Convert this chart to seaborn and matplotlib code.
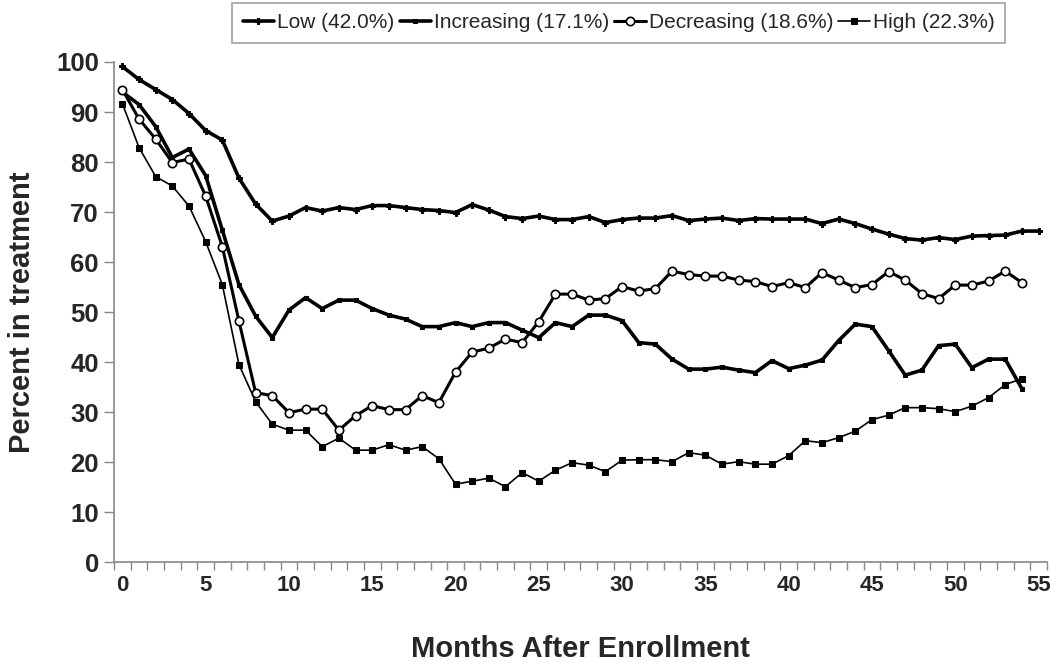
import numpy as np
import pandas as pd
import matplotlib
matplotlib.use("Agg")
import matplotlib.pyplot as plt
from matplotlib.ticker import MultipleLocator, FixedLocator
from matplotlib import font_manager
import seaborn as sns

# percent in treatment by month after enrollment
low = [99.1, 96.5, 94.5, 92.5, 89.7, 86.3, 84.4, 76.8, 71.6, 68.2,
       69.2, 70.9, 70.2, 70.9, 70.5, 71.3, 71.3, 70.9, 70.5, 70.3,
       69.9, 71.5, 70.4, 69.1, 68.7, 69.2, 68.5, 68.5, 69.1, 67.9,
       68.5, 68.8, 68.8, 69.3, 68.3, 68.6, 68.8, 68.3, 68.7, 68.6,
       68.6, 68.6, 67.7, 68.6, 67.7, 66.6, 65.6, 64.7, 64.4, 64.9,
       64.5, 65.2, 65.3, 65.4, 66.2, 66.2]
increasing = [94.0, 91.5, 87.1, 80.9, 82.6, 77.3, 66.4, 55.5, 49.2, 44.9,
              50.4, 52.9, 50.7, 52.4, 52.4, 50.7, 49.4, 48.6, 47.1, 47.1,
              47.9, 47.1, 47.9, 47.9, 46.4, 44.9, 47.9, 47.1, 49.4, 49.4,
              48.3, 43.9, 43.6, 40.6, 38.6, 38.6, 39.0, 38.4, 37.9, 40.3,
              38.7, 39.4, 40.4, 44.3, 47.6, 47.1, 42.3, 37.4, 38.4, 43.3,
              43.6, 38.9, 40.6, 40.6, 34.7]
decreasing = [94.5, 88.6, 84.6, 79.9, 80.6, 73.2, 63.1, 48.2, 33.9, 33.3,
              29.9, 30.6, 30.6, 26.4, 29.3, 31.3, 30.5, 30.5, 33.3, 31.9,
              38.0, 42.0, 42.8, 44.6, 43.9, 48.1, 53.6, 53.6, 52.4, 52.7,
              55.1, 54.2, 54.7, 58.2, 57.5, 57.2, 57.2, 56.4, 56.1, 55.1,
              55.9, 54.9, 57.9, 56.4, 54.9, 55.5, 58.1, 56.4, 53.7, 52.7,
              55.4, 55.4, 56.2, 58.2, 55.9]
high = [91.7, 82.9, 77.1, 75.2, 71.2, 64.1, 55.5, 39.5, 32.1, 27.6,
        26.4, 26.4, 23.1, 24.8, 22.4, 22.4, 23.5, 22.4, 23.1, 20.7,
        15.6, 16.2, 16.8, 15.1, 17.9, 16.2, 18.4, 19.9, 19.4, 18.1,
        20.4, 20.5, 20.5, 20.1, 21.9, 21.4, 19.6, 20.1, 19.6, 19.6,
        21.3, 24.3, 23.9, 24.9, 26.2, 28.5, 29.4, 30.9, 30.9, 30.7,
        30.1, 31.2, 32.9, 35.5, 36.7]
labels = ["Low (42.0%)", "Increasing (17.1%)", "Decreasing (18.6%)", "High (22.3%)"]

sns.set_style("white")
plt.rcParams["font.family"] = ["Liberation Sans", "DejaVu Sans"]

installed = {f.name for f in font_manager.fontManager.ttflist}
legend_family = "Liberation Sans Narrow" if "Liberation Sans Narrow" in installed else "Liberation Sans"
legend_size = 18 if legend_family == "Liberation Sans Narrow" else 15

fig = plt.figure(figsize=(10.5, 6.63), dpi=100)
ax = fig.add_axes([0.1086, 0.152, 0.8884, 0.7545])

styles = [
    (low, dict(lw=2.6, marker="P", ms=5, mfc="black", mec="black")),
    (increasing, dict(lw=2.6, marker="s", ms=3.5, mfc="black", mec="black")),
    (decreasing, dict(lw=2.2, marker="o", ms=6, mfc="white", mec="black", mew=1.2)),
    (high, dict(lw=1.2, marker="s", ms=5, mfc="black", mec="black")),
]
for (vals, kw), lab in zip(styles, labels):
    months = np.arange(len(vals))
    sns.lineplot(x=months, y=vals, ax=ax, color="black", label=lab, **kw)

ax.set_xlim(-0.5, 55.5)
ax.set_ylim(0, 100)
ax.xaxis.set_major_locator(MultipleLocator(5))
ax.xaxis.set_minor_locator(FixedLocator(np.arange(-0.5, 56, 1)))
ax.yaxis.set_major_locator(MultipleLocator(10))
ax.tick_params(axis="x", which="major", length=0, pad=9, labelsize=16)
ax.tick_params(axis="x", which="minor", length=6, width=1, color="#888888", direction="out", bottom=True)
ax.tick_params(axis="y", which="major", length=7, width=1, color="#888888", direction="out", left=True, labelsize=18.5, pad=4)
for lbl in ax.get_xticklabels() + ax.get_yticklabels():
    lbl.set_fontweight("bold")

for s in ["top", "right"]:
    ax.spines[s].set_visible(False)
for s in ["left", "bottom"]:
    ax.spines[s].set_color("#888888")
    ax.spines[s].set_linewidth(1.2)

ax.set_xlabel("Months After Enrollment", fontsize=21, fontweight="bold", labelpad=28)
ax.set_ylabel("Percent in treatment", fontsize=21, fontweight="bold", labelpad=14)

leg = ax.legend(loc="upper center", bbox_to_anchor=(0.541, 1.118), ncol=4, frameon=True,
                fancybox=False, edgecolor="#888888", prop={"family": legend_family, "size": legend_size},
                handlelength=1.5, handletextpad=0.15, columnspacing=0.25, borderpad=0.5, borderaxespad=0)
leg.get_frame().set_linewidth(1.2)

fig.savefig("out.png", dpi=100)
